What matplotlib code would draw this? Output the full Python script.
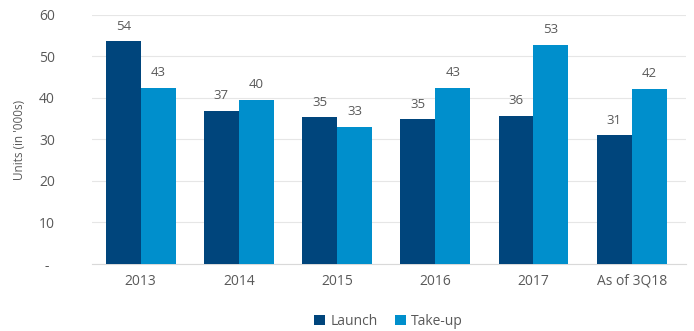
import matplotlib
matplotlib.use("Agg")
import matplotlib.pyplot as plt
import numpy as np

categories = ["2013", "2014", "2015", "2016", "2017", "As of 3Q18"]
launch = [53.7, 36.9, 35.3, 34.9, 35.7, 31.0]
takeup = [42.5, 39.6, 33.1, 42.5, 52.8, 42.2]
launch_labels = ["54", "37", "35", "35", "36", "31"]
takeup_labels = ["43", "40", "33", "43", "53", "42"]
yticks = [0, 10, 20, 30, 40, 50, 60]
ytick_labels = ["-", "10", "20", "30", "40", "50", "60"]

plt.rcParams['font.family'] = ['Open Sans', 'DejaVu Sans']
c_launch = "#00457C"
c_take = "#008FCC"
txt = "#595959"

fig = plt.figure(figsize=(6.94, 3.31), dpi=100)
ax = fig.add_axes([0.132, 0.2024, 0.856, 0.7526])

x = np.arange(len(categories))
w = 0.355
ax.bar(x - w/2, launch, w, color=c_launch, label="Launch", zorder=3)
ax.bar(x + w/2, takeup, w, color=c_take, label="Take-up", zorder=3)

for xi, v, l in zip(x, launch, launch_labels):
    ax.text(xi - w/2, v + 2.0, l, ha="center", va="bottom", fontsize=9.5, color=txt, clip_on=False)
for xi, v, l in zip(x, takeup, takeup_labels):
    ax.text(xi + w/2, v + 2.0, l, ha="center", va="bottom", fontsize=9.5, color=txt, clip_on=False)

ax.set_xlim(-0.5, 5.55)
ax.set_ylim(0, 60)
ax.set_yticks(yticks)
ax.set_yticklabels(ytick_labels, fontsize=10, color=txt)
ax.set_xticks(x)
ax.set_xticklabels(categories, fontsize=10, color=txt)
ax.tick_params(axis="both", length=0)
ax.tick_params(axis="x", pad=7)
for lbl in ax.get_yticklabels():
    lbl.set_horizontalalignment("center")
ax.tick_params(axis="y", pad=32)
ax.yaxis.grid(True, color="#E6E6E6", linewidth=0.8, zorder=0)
for s in ["top", "right", "left"]:
    ax.spines[s].set_visible(False)
ax.spines["bottom"].set_color("#D9D9D9")
ax.set_ylabel("Units (in '000s)", fontsize=8.5, color=txt, labelpad=2)
ax.yaxis.set_label_coords(-0.11, 0.5)

ax.legend(loc="upper center", bbox_to_anchor=(0.5, -0.15), ncol=2, frameon=False,
          fontsize=10, handlelength=0.8, handleheight=0.8, handletextpad=0.4,
          columnspacing=1.2, labelcolor=txt)

fig.savefig("out.png", dpi=100)
